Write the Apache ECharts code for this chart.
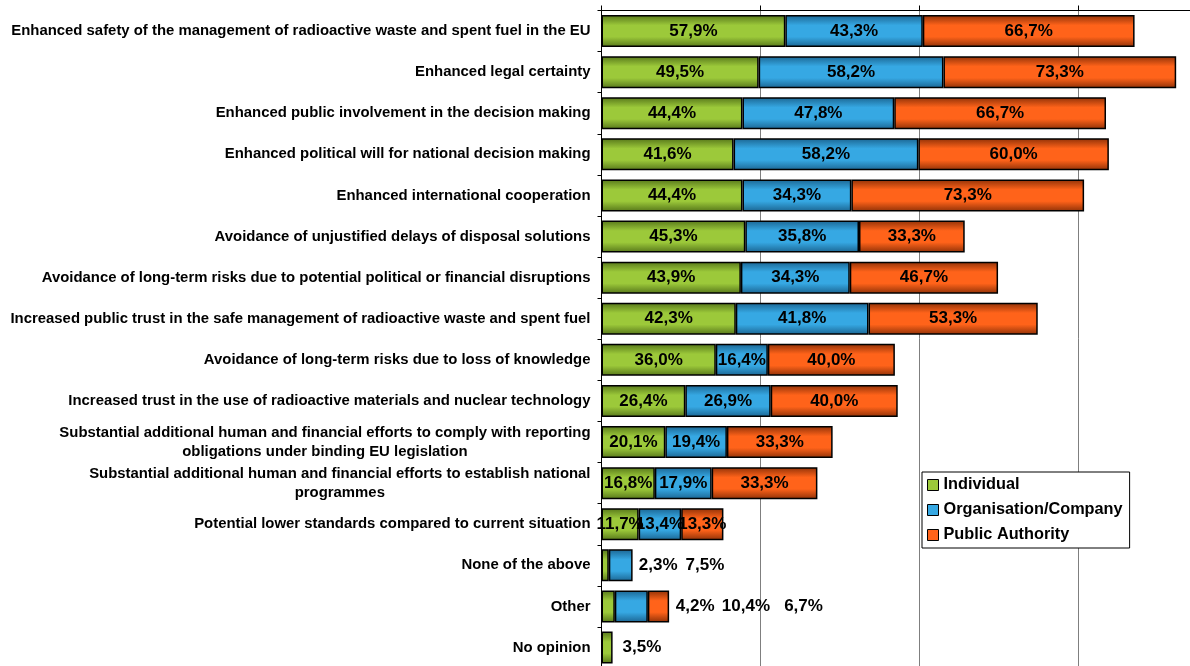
<!DOCTYPE html>
<html>
<head>
<meta charset="utf-8">
<script src="https://cdn.jsdelivr.net/npm/echarts@6/dist/echarts.min.js"></script>
<style>
  html, body { margin: 0; padding: 0; background: #ffffff; }
  #chart { width: 1190px; height: 666px; }
</style>
</head>
<body>
<div id="chart"></div>
<script>
// Expected impacts, share of respondents by type (%)
const categories = [
  "Enhanced safety of the management of radioactive waste and spent fuel in the EU",
  "Enhanced legal certainty",
  "Enhanced public involvement in the decision making",
  "Enhanced political will for national decision making",
  "Enhanced international cooperation",
  "Avoidance of unjustified delays of disposal solutions",
  "Avoidance of long-term risks due to potential political or financial disruptions",
  "Increased public trust in the safe management of radioactive waste and spent fuel",
  "Avoidance of long-term risks due to loss of knowledge",
  "Increased trust in the use of radioactive materials and nuclear technology",
  "Substantial additional human and financial efforts to comply with reporting\nobligations under binding EU legislation",
  "Substantial additional human and financial efforts to establish national\nprogrammes",
  "Potential lower standards compared to current situation",
  "None of the above",
  "Other",
  "No opinion"
];
const seriesNames = ["Individual", "Organisation/Company", "Public Authority"];
const individual = [57.9, 49.5, 44.4, 41.6, 44.4, 45.3, 43.9, 42.3, 36.0, 26.4, 20.1, 16.8, 11.7, 2.3, 4.2, 3.5];
const organisation = [43.3, 58.2, 47.8, 58.2, 34.3, 35.8, 34.3, 41.8, 16.4, 26.9, 19.4, 17.9, 13.4, 7.5, 10.4, null];
const publicAuthority = [66.7, 73.3, 66.7, 60.0, 73.3, 33.3, 46.7, 53.3, 40.0, 40.0, 33.3, 33.3, 13.3, null, 6.7, null];

// Labels of the thin bars sit in a row to the right of the stack (extra x shift in px)
const outsideLabelShift = {
  "None of the above": [25, 48, null],
  "Other": [56, 69, 110],
  "No opinion": [5, null, null]
};

const palette = [
  { base: '#9cc93a', dark: '#56761a' },
  { base: '#36a8e3', dark: '#1b6592' },
  { base: '#ff631a', dark: '#8f3107' }
];

const FONT = "'Liberation Sans', Arial, sans-serif";

function fmt(v) {
  return v.toFixed(1).replace('.', ',') + '%';
}

function gradient(p) {
  return new echarts.graphic.LinearGradient(0, 0, 0, 1, [
    { offset: 0, color: p.dark },
    { offset: 0.32, color: p.base },
    { offset: 0.68, color: p.base },
    { offset: 1, color: p.dark }
  ]);
}

function buildData(values, seriesIdx) {
  return values.map((v, i) => {
    const shift = outsideLabelShift[categories[i]];
    if (v != null && shift && shift[seriesIdx] != null) {
      return { value: v, label: { position: 'right', distance: 5, offset: [shift[seriesIdx], 0] } };
    }
    return v;
  });
}

const allValues = [individual, organisation, publicAuthority];

const series = allValues.map((vals, s) => ({
  name: seriesNames[s],
  type: 'bar',
  stack: 'total',
  barWidth: 32,
  data: buildData(vals, s),
  itemStyle: {
    color: gradient(palette[s]),
    borderColor: '#000000',
    borderWidth: 1.5
  },
  label: {
    show: true,
    position: 'inside',
    color: '#000000',
    fontFamily: FONT,
    fontWeight: 'bold',
    fontSize: 17,
    formatter: p => fmt(p.value)
  },
  emphasis: { disabled: true },
  animation: false
}));

const chart = echarts.init(document.getElementById('chart'), null, { renderer: 'canvas' });
chart.setOption({
  backgroundColor: '#ffffff',
  animation: false,
  grid: {
    left: 601.5,
    top: 10.5,
    width: 635,
    height: 657.6,
    containLabel: false,
    outerBoundsMode: 'none'
  },
  legend: {
    orient: 'vertical',
    left: 922,
    top: 472,
    padding: [3, 7, 3, 5],
    itemWidth: 11,
    itemHeight: 11,
    itemGap: 5,
    backgroundColor: '#ffffff',
    borderColor: '#000000',
    borderWidth: 1,
    icon: 'rect',
    textStyle: {
      fontFamily: FONT,
      fontWeight: 'bold',
      fontSize: 16.3,
      lineHeight: 20,
      color: '#000000'
    },
    data: seriesNames.map((n, i) => ({
      name: n,
      itemStyle: { color: palette[i].base, borderColor: '#000000', borderWidth: 1 }
    }))
  },
  xAxis: {
    type: 'value',
    position: 'top',
    min: 0,
    max: 200,
    interval: 50,
    axisLine: { show: true, lineStyle: { color: '#000000', width: 1 } },
    axisTick: { show: true, inside: false, length: 5, lineStyle: { color: '#000000' } },
    axisLabel: { show: false },
    splitLine: { show: true, lineStyle: { color: '#7f7f7f', width: 1 } }
  },
  yAxis: {
    type: 'category',
    inverse: true,
    data: categories,
    axisLine: { show: true, lineStyle: { color: '#000000', width: 1 } },
    axisTick: { show: true, inside: false, length: 4, lineStyle: { color: '#000000' } },
    axisLabel: {
      margin: 11,
      formatter: v => v.split('\n').map(l => '{c|' + l + '}').join('\n'),
      rich: {
        c: {
          align: 'center',
          fontFamily: FONT,
          fontWeight: 'bold',
          fontSize: 14.9,
          lineHeight: 19,
          color: '#000000'
        }
      }
    }
  },
  series: series
});
</script>
</body>
</html>
